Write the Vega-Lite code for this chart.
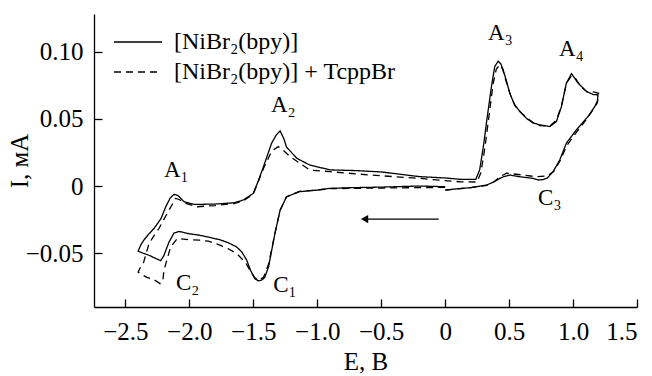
{
  "$schema": "https://vega.github.io/schema/vega-lite/v6.json",
  "width": 543,
  "height": 293,
  "autosize": "none",
  "padding": {"left": 94, "top": 14, "right": 15, "bottom": 69},
  "background": "white",
  "config": {
    "view": {"stroke": null},
    "font": "Liberation Serif, Times New Roman, serif",
    "axis": {
      "grid": false,
      "domainColor": "black",
      "domainWidth": 1.3,
      "tickColor": "black",
      "tickWidth": 1.3,
      "labelFont": "Liberation Serif, Times New Roman, serif",
      "labelFontSize": 25,
      "labelColor": "black",
      "titleFont": "Liberation Serif, Times New Roman, serif",
      "titleFontSize": 25,
      "titleFontWeight": "normal",
      "titleColor": "black"
    },
    "legend": {
      "labelFont": "Liberation Serif, Times New Roman, serif",
      "labelFontSize": 24,
      "labelColor": "black"
    }
  },
  "layer": [
    {
      "data": {
        "values": [
          {"s": "[NiBr₂(bpy)]", "i": 1, "E": 0.0, "I": -0.0005},
          {"s": "[NiBr₂(bpy)]", "i": 2, "E": -0.2, "I": 0.0},
          {"s": "[NiBr₂(bpy)]", "i": 3, "E": -0.5, "I": -0.0008},
          {"s": "[NiBr₂(bpy)]", "i": 4, "E": -0.72, "I": -0.0012},
          {"s": "[NiBr₂(bpy)]", "i": 5, "E": -0.9, "I": -0.0017},
          {"s": "[NiBr₂(bpy)]", "i": 6, "E": -1.0, "I": -0.003},
          {"s": "[NiBr₂(bpy)]", "i": 7, "E": -1.14, "I": -0.0042},
          {"s": "[NiBr₂(bpy)]", "i": 8, "E": -1.24, "I": -0.008},
          {"s": "[NiBr₂(bpy)]", "i": 9, "E": -1.29, "I": -0.018},
          {"s": "[NiBr₂(bpy)]", "i": 10, "E": -1.33, "I": -0.035},
          {"s": "[NiBr₂(bpy)]", "i": 11, "E": -1.38, "I": -0.06},
          {"s": "[NiBr₂(bpy)]", "i": 12, "E": -1.41, "I": -0.068},
          {"s": "[NiBr₂(bpy)]", "i": 13, "E": -1.434, "I": -0.07},
          {"s": "[NiBr₂(bpy)]", "i": 14, "E": -1.46, "I": -0.0705},
          {"s": "[NiBr₂(bpy)]", "i": 15, "E": -1.487, "I": -0.069},
          {"s": "[NiBr₂(bpy)]", "i": 16, "E": -1.52, "I": -0.063},
          {"s": "[NiBr₂(bpy)]", "i": 17, "E": -1.552, "I": -0.055},
          {"s": "[NiBr₂(bpy)]", "i": 18, "E": -1.59, "I": -0.049},
          {"s": "[NiBr₂(bpy)]", "i": 19, "E": -1.63, "I": -0.0453},
          {"s": "[NiBr₂(bpy)]", "i": 20, "E": -1.7, "I": -0.042},
          {"s": "[NiBr₂(bpy)]", "i": 21, "E": -1.76, "I": -0.04},
          {"s": "[NiBr₂(bpy)]", "i": 22, "E": -1.85, "I": -0.038},
          {"s": "[NiBr₂(bpy)]", "i": 23, "E": -1.92, "I": -0.0366},
          {"s": "[NiBr₂(bpy)]", "i": 24, "E": -2.0, "I": -0.0355},
          {"s": "[NiBr₂(bpy)]", "i": 25, "E": -2.08, "I": -0.0338},
          {"s": "[NiBr₂(bpy)]", "i": 26, "E": -2.12, "I": -0.035},
          {"s": "[NiBr₂(bpy)]", "i": 27, "E": -2.16, "I": -0.042},
          {"s": "[NiBr₂(bpy)]", "i": 28, "E": -2.2, "I": -0.052},
          {"s": "[NiBr₂(bpy)]", "i": 29, "E": -2.224, "I": -0.0555},
          {"s": "[NiBr₂(bpy)]", "i": 30, "E": -2.26, "I": -0.054},
          {"s": "[NiBr₂(bpy)]", "i": 31, "E": -2.315, "I": -0.0515},
          {"s": "[NiBr₂(bpy)]", "i": 32, "E": -2.36, "I": -0.05},
          {"s": "[NiBr₂(bpy)]", "i": 33, "E": -2.4, "I": -0.0485},
          {"s": "[NiBr₂(bpy)]", "i": 34, "E": -2.38, "I": -0.044},
          {"s": "[NiBr₂(bpy)]", "i": 35, "E": -2.354, "I": -0.04},
          {"s": "[NiBr₂(bpy)]", "i": 36, "E": -2.31, "I": -0.035},
          {"s": "[NiBr₂(bpy)]", "i": 37, "E": -2.276, "I": -0.0316},
          {"s": "[NiBr₂(bpy)]", "i": 38, "E": -2.22, "I": -0.024},
          {"s": "[NiBr₂(bpy)]", "i": 39, "E": -2.184, "I": -0.0154},
          {"s": "[NiBr₂(bpy)]", "i": 40, "E": -2.15, "I": -0.009},
          {"s": "[NiBr₂(bpy)]", "i": 41, "E": -2.12, "I": -0.0062},
          {"s": "[NiBr₂(bpy)]", "i": 42, "E": -2.09, "I": -0.007},
          {"s": "[NiBr₂(bpy)]", "i": 43, "E": -2.04, "I": -0.0117},
          {"s": "[NiBr₂(bpy)]", "i": 44, "E": -1.96, "I": -0.0137},
          {"s": "[NiBr₂(bpy)]", "i": 45, "E": -1.8, "I": -0.0134},
          {"s": "[NiBr₂(bpy)]", "i": 46, "E": -1.65, "I": -0.0125},
          {"s": "[NiBr₂(bpy)]", "i": 47, "E": -1.578, "I": -0.0104},
          {"s": "[NiBr₂(bpy)]", "i": 48, "E": -1.5, "I": -0.0055},
          {"s": "[NiBr₂(bpy)]", "i": 49, "E": -1.46, "I": 0.004},
          {"s": "[NiBr₂(bpy)]", "i": 50, "E": -1.42, "I": 0.0144},
          {"s": "[NiBr₂(bpy)]", "i": 51, "E": -1.356, "I": 0.032},
          {"s": "[NiBr₂(bpy)]", "i": 52, "E": -1.32, "I": 0.038},
          {"s": "[NiBr₂(bpy)]", "i": 53, "E": -1.29, "I": 0.041},
          {"s": "[NiBr₂(bpy)]", "i": 54, "E": -1.26, "I": 0.035},
          {"s": "[NiBr₂(bpy)]", "i": 55, "E": -1.24, "I": 0.029},
          {"s": "[NiBr₂(bpy)]", "i": 56, "E": -1.16, "I": 0.0207},
          {"s": "[NiBr₂(bpy)]", "i": 57, "E": -1.06, "I": 0.0157},
          {"s": "[NiBr₂(bpy)]", "i": 58, "E": -0.9, "I": 0.012},
          {"s": "[NiBr₂(bpy)]", "i": 59, "E": -0.7, "I": 0.0115},
          {"s": "[NiBr₂(bpy)]", "i": 60, "E": -0.5, "I": 0.0105},
          {"s": "[NiBr₂(bpy)]", "i": 61, "E": -0.2, "I": 0.007},
          {"s": "[NiBr₂(bpy)]", "i": 62, "E": 0.0, "I": 0.006},
          {"s": "[NiBr₂(bpy)]", "i": 63, "E": 0.12, "I": 0.005},
          {"s": "[NiBr₂(bpy)]", "i": 64, "E": 0.24, "I": 0.005},
          {"s": "[NiBr₂(bpy)]", "i": 65, "E": 0.27, "I": 0.012},
          {"s": "[NiBr₂(bpy)]", "i": 66, "E": 0.3, "I": 0.03},
          {"s": "[NiBr₂(bpy)]", "i": 67, "E": 0.323, "I": 0.047},
          {"s": "[NiBr₂(bpy)]", "i": 68, "E": 0.362, "I": 0.074},
          {"s": "[NiBr₂(bpy)]", "i": 69, "E": 0.388, "I": 0.089},
          {"s": "[NiBr₂(bpy)]", "i": 70, "E": 0.414, "I": 0.0928},
          {"s": "[NiBr₂(bpy)]", "i": 71, "E": 0.435, "I": 0.091},
          {"s": "[NiBr₂(bpy)]", "i": 72, "E": 0.453, "I": 0.0866},
          {"s": "[NiBr₂(bpy)]", "i": 73, "E": 0.48, "I": 0.078},
          {"s": "[NiBr₂(bpy)]", "i": 74, "E": 0.505, "I": 0.0692},
          {"s": "[NiBr₂(bpy)]", "i": 75, "E": 0.54, "I": 0.061},
          {"s": "[NiBr₂(bpy)]", "i": 76, "E": 0.584, "I": 0.0555},
          {"s": "[NiBr₂(bpy)]", "i": 77, "E": 0.64, "I": 0.05},
          {"s": "[NiBr₂(bpy)]", "i": 78, "E": 0.688, "I": 0.047},
          {"s": "[NiBr₂(bpy)]", "i": 79, "E": 0.74, "I": 0.0455},
          {"s": "[NiBr₂(bpy)]", "i": 80, "E": 0.818, "I": 0.0443},
          {"s": "[NiBr₂(bpy)]", "i": 81, "E": 0.87, "I": 0.048},
          {"s": "[NiBr₂(bpy)]", "i": 82, "E": 0.909, "I": 0.059},
          {"s": "[NiBr₂(bpy)]", "i": 83, "E": 0.948, "I": 0.0766},
          {"s": "[NiBr₂(bpy)]", "i": 84, "E": 0.988, "I": 0.0836},
          {"s": "[NiBr₂(bpy)]", "i": 85, "E": 1.039, "I": 0.0766},
          {"s": "[NiBr₂(bpy)]", "i": 86, "E": 1.105, "I": 0.0704},
          {"s": "[NiBr₂(bpy)]", "i": 87, "E": 1.16, "I": 0.068},
          {"s": "[NiBr₂(bpy)]", "i": 88, "E": 1.195, "I": 0.0679},
          {"s": "[NiBr₂(bpy)]", "i": 89, "E": 1.19, "I": 0.063},
          {"s": "[NiBr₂(bpy)]", "i": 90, "E": 1.17, "I": 0.0592},
          {"s": "[NiBr₂(bpy)]", "i": 91, "E": 1.117, "I": 0.0517},
          {"s": "[NiBr₂(bpy)]", "i": 92, "E": 1.026, "I": 0.0418},
          {"s": "[NiBr₂(bpy)]", "i": 93, "E": 0.948, "I": 0.0319},
          {"s": "[NiBr₂(bpy)]", "i": 94, "E": 0.896, "I": 0.0194},
          {"s": "[NiBr₂(bpy)]", "i": 95, "E": 0.844, "I": 0.0107},
          {"s": "[NiBr₂(bpy)]", "i": 96, "E": 0.8, "I": 0.006},
          {"s": "[NiBr₂(bpy)]", "i": 97, "E": 0.766, "I": 0.0048},
          {"s": "[NiBr₂(bpy)]", "i": 98, "E": 0.727, "I": 0.0045},
          {"s": "[NiBr₂(bpy)]", "i": 99, "E": 0.688, "I": 0.0057},
          {"s": "[NiBr₂(bpy)]", "i": 100, "E": 0.62, "I": 0.0065},
          {"s": "[NiBr₂(bpy)]", "i": 101, "E": 0.584, "I": 0.0069},
          {"s": "[NiBr₂(bpy)]", "i": 102, "E": 0.505, "I": 0.0082},
          {"s": "[NiBr₂(bpy)]", "i": 103, "E": 0.46, "I": 0.007},
          {"s": "[NiBr₂(bpy)]", "i": 104, "E": 0.427, "I": 0.0057},
          {"s": "[NiBr₂(bpy)]", "i": 105, "E": 0.38, "I": 0.003},
          {"s": "[NiBr₂(bpy)]", "i": 106, "E": 0.323, "I": 0.0007},
          {"s": "[NiBr₂(bpy)]", "i": 107, "E": 0.2, "I": -0.0012},
          {"s": "[NiBr₂(bpy)]", "i": 108, "E": 0.1, "I": -0.002},
          {"s": "[NiBr₂(bpy)]", "i": 109, "E": 0.0, "I": -0.003},

          {"s": "[NiBr₂(bpy)] + TcppBr", "i": 1, "E": 0.0, "I": -0.001},
          {"s": "[NiBr₂(bpy)] + TcppBr", "i": 2, "E": -0.2, "I": -0.0012},
          {"s": "[NiBr₂(bpy)] + TcppBr", "i": 3, "E": -0.5, "I": -0.0015},
          {"s": "[NiBr₂(bpy)] + TcppBr", "i": 4, "E": -0.72, "I": -0.0017},
          {"s": "[NiBr₂(bpy)] + TcppBr", "i": 5, "E": -0.9, "I": -0.002},
          {"s": "[NiBr₂(bpy)] + TcppBr", "i": 6, "E": -1.0, "I": -0.003},
          {"s": "[NiBr₂(bpy)] + TcppBr", "i": 7, "E": -1.14, "I": -0.004},
          {"s": "[NiBr₂(bpy)] + TcppBr", "i": 8, "E": -1.24, "I": -0.008},
          {"s": "[NiBr₂(bpy)] + TcppBr", "i": 9, "E": -1.29, "I": -0.018},
          {"s": "[NiBr₂(bpy)] + TcppBr", "i": 10, "E": -1.33, "I": -0.035},
          {"s": "[NiBr₂(bpy)] + TcppBr", "i": 11, "E": -1.38, "I": -0.058},
          {"s": "[NiBr₂(bpy)] + TcppBr", "i": 12, "E": -1.42, "I": -0.068},
          {"s": "[NiBr₂(bpy)] + TcppBr", "i": 13, "E": -1.46, "I": -0.0701},
          {"s": "[NiBr₂(bpy)] + TcppBr", "i": 14, "E": -1.49, "I": -0.068},
          {"s": "[NiBr₂(bpy)] + TcppBr", "i": 15, "E": -1.526, "I": -0.0627},
          {"s": "[NiBr₂(bpy)] + TcppBr", "i": 16, "E": -1.56, "I": -0.057},
          {"s": "[NiBr₂(bpy)] + TcppBr", "i": 17, "E": -1.63, "I": -0.0502},
          {"s": "[NiBr₂(bpy)] + TcppBr", "i": 18, "E": -1.7, "I": -0.0465},
          {"s": "[NiBr₂(bpy)] + TcppBr", "i": 19, "E": -1.76, "I": -0.044},
          {"s": "[NiBr₂(bpy)] + TcppBr", "i": 20, "E": -1.85, "I": -0.041},
          {"s": "[NiBr₂(bpy)] + TcppBr", "i": 21, "E": -1.92, "I": -0.0403},
          {"s": "[NiBr₂(bpy)] + TcppBr", "i": 22, "E": -2.0, "I": -0.04},
          {"s": "[NiBr₂(bpy)] + TcppBr", "i": 23, "E": -2.094, "I": -0.039},
          {"s": "[NiBr₂(bpy)] + TcppBr", "i": 24, "E": -2.146, "I": -0.0453},
          {"s": "[NiBr₂(bpy)] + TcppBr", "i": 25, "E": -2.175, "I": -0.055},
          {"s": "[NiBr₂(bpy)] + TcppBr", "i": 26, "E": -2.198, "I": -0.0627},
          {"s": "[NiBr₂(bpy)] + TcppBr", "i": 27, "E": -2.208, "I": -0.071},
          {"s": "[NiBr₂(bpy)] + TcppBr", "i": 28, "E": -2.229, "I": -0.0726},
          {"s": "[NiBr₂(bpy)] + TcppBr", "i": 29, "E": -2.27, "I": -0.07},
          {"s": "[NiBr₂(bpy)] + TcppBr", "i": 30, "E": -2.33, "I": -0.068},
          {"s": "[NiBr₂(bpy)] + TcppBr", "i": 31, "E": -2.385, "I": -0.0652},
          {"s": "[NiBr₂(bpy)] + TcppBr", "i": 32, "E": -2.4, "I": -0.064},
          {"s": "[NiBr₂(bpy)] + TcppBr", "i": 33, "E": -2.385, "I": -0.061},
          {"s": "[NiBr₂(bpy)] + TcppBr", "i": 34, "E": -2.36, "I": -0.0577},
          {"s": "[NiBr₂(bpy)] + TcppBr", "i": 35, "E": -2.315, "I": -0.0428},
          {"s": "[NiBr₂(bpy)] + TcppBr", "i": 36, "E": -2.27, "I": -0.036},
          {"s": "[NiBr₂(bpy)] + TcppBr", "i": 37, "E": -2.237, "I": -0.0316},
          {"s": "[NiBr₂(bpy)] + TcppBr", "i": 38, "E": -2.2, "I": -0.025},
          {"s": "[NiBr₂(bpy)] + TcppBr", "i": 39, "E": -2.159, "I": -0.018},
          {"s": "[NiBr₂(bpy)] + TcppBr", "i": 40, "E": -2.107, "I": -0.0092},
          {"s": "[NiBr₂(bpy)] + TcppBr", "i": 41, "E": -2.08, "I": -0.01},
          {"s": "[NiBr₂(bpy)] + TcppBr", "i": 42, "E": -2.028, "I": -0.0129},
          {"s": "[NiBr₂(bpy)] + TcppBr", "i": 43, "E": -1.938, "I": -0.0154},
          {"s": "[NiBr₂(bpy)] + TcppBr", "i": 44, "E": -1.8, "I": -0.0145},
          {"s": "[NiBr₂(bpy)] + TcppBr", "i": 45, "E": -1.65, "I": -0.013},
          {"s": "[NiBr₂(bpy)] + TcppBr", "i": 46, "E": -1.578, "I": -0.011},
          {"s": "[NiBr₂(bpy)] + TcppBr", "i": 47, "E": -1.5, "I": -0.006},
          {"s": "[NiBr₂(bpy)] + TcppBr", "i": 48, "E": -1.42, "I": 0.013},
          {"s": "[NiBr₂(bpy)] + TcppBr", "i": 49, "E": -1.356, "I": 0.026},
          {"s": "[NiBr₂(bpy)] + TcppBr", "i": 50, "E": -1.305, "I": 0.0293},
          {"s": "[NiBr₂(bpy)] + TcppBr", "i": 51, "E": -1.27, "I": 0.027},
          {"s": "[NiBr₂(bpy)] + TcppBr", "i": 52, "E": -1.213, "I": 0.0219},
          {"s": "[NiBr₂(bpy)] + TcppBr", "i": 53, "E": -1.057, "I": 0.0119},
          {"s": "[NiBr₂(bpy)] + TcppBr", "i": 54, "E": -0.9, "I": 0.0107},
          {"s": "[NiBr₂(bpy)] + TcppBr", "i": 55, "E": -0.588, "I": 0.0082},
          {"s": "[NiBr₂(bpy)] + TcppBr", "i": 56, "E": -0.198, "I": 0.0057},
          {"s": "[NiBr₂(bpy)] + TcppBr", "i": 57, "E": 0.0, "I": 0.004},
          {"s": "[NiBr₂(bpy)] + TcppBr", "i": 58, "E": 0.115, "I": 0.0032},
          {"s": "[NiBr₂(bpy)] + TcppBr", "i": 59, "E": 0.25, "I": 0.003},
          {"s": "[NiBr₂(bpy)] + TcppBr", "i": 60, "E": 0.28, "I": 0.01},
          {"s": "[NiBr₂(bpy)] + TcppBr", "i": 61, "E": 0.31, "I": 0.028},
          {"s": "[NiBr₂(bpy)] + TcppBr", "i": 62, "E": 0.34, "I": 0.05},
          {"s": "[NiBr₂(bpy)] + TcppBr", "i": 63, "E": 0.375, "I": 0.076},
          {"s": "[NiBr₂(bpy)] + TcppBr", "i": 64, "E": 0.4, "I": 0.087},
          {"s": "[NiBr₂(bpy)] + TcppBr", "i": 65, "E": 0.427, "I": 0.0903},
          {"s": "[NiBr₂(bpy)] + TcppBr", "i": 66, "E": 0.45, "I": 0.087},
          {"s": "[NiBr₂(bpy)] + TcppBr", "i": 67, "E": 0.47, "I": 0.08},
          {"s": "[NiBr₂(bpy)] + TcppBr", "i": 68, "E": 0.51, "I": 0.068},
          {"s": "[NiBr₂(bpy)] + TcppBr", "i": 69, "E": 0.55, "I": 0.059},
          {"s": "[NiBr₂(bpy)] + TcppBr", "i": 70, "E": 0.6, "I": 0.054},
          {"s": "[NiBr₂(bpy)] + TcppBr", "i": 71, "E": 0.688, "I": 0.047},
          {"s": "[NiBr₂(bpy)] + TcppBr", "i": 72, "E": 0.74, "I": 0.045},
          {"s": "[NiBr₂(bpy)] + TcppBr", "i": 73, "E": 0.818, "I": 0.0445},
          {"s": "[NiBr₂(bpy)] + TcppBr", "i": 74, "E": 0.87, "I": 0.049},
          {"s": "[NiBr₂(bpy)] + TcppBr", "i": 75, "E": 0.91, "I": 0.06},
          {"s": "[NiBr₂(bpy)] + TcppBr", "i": 76, "E": 0.95, "I": 0.077},
          {"s": "[NiBr₂(bpy)] + TcppBr", "i": 77, "E": 0.99, "I": 0.082},
          {"s": "[NiBr₂(bpy)] + TcppBr", "i": 78, "E": 1.02, "I": 0.08},
          {"s": "[NiBr₂(bpy)] + TcppBr", "i": 79, "E": 1.06, "I": 0.074},
          {"s": "[NiBr₂(bpy)] + TcppBr", "i": 80, "E": 1.11, "I": 0.07},
          {"s": "[NiBr₂(bpy)] + TcppBr", "i": 81, "E": 1.16, "I": 0.07},
          {"s": "[NiBr₂(bpy)] + TcppBr", "i": 82, "E": 1.2, "I": 0.069},
          {"s": "[NiBr₂(bpy)] + TcppBr", "i": 83, "E": 1.19, "I": 0.062},
          {"s": "[NiBr₂(bpy)] + TcppBr", "i": 84, "E": 1.15, "I": 0.056},
          {"s": "[NiBr₂(bpy)] + TcppBr", "i": 85, "E": 1.1, "I": 0.049},
          {"s": "[NiBr₂(bpy)] + TcppBr", "i": 86, "E": 1.026, "I": 0.04},
          {"s": "[NiBr₂(bpy)] + TcppBr", "i": 87, "E": 0.95, "I": 0.03},
          {"s": "[NiBr₂(bpy)] + TcppBr", "i": 88, "E": 0.9, "I": 0.019},
          {"s": "[NiBr₂(bpy)] + TcppBr", "i": 89, "E": 0.85, "I": 0.011},
          {"s": "[NiBr₂(bpy)] + TcppBr", "i": 90, "E": 0.8, "I": 0.0075},
          {"s": "[NiBr₂(bpy)] + TcppBr", "i": 91, "E": 0.714, "I": 0.0069},
          {"s": "[NiBr₂(bpy)] + TcppBr", "i": 92, "E": 0.61, "I": 0.0082},
          {"s": "[NiBr₂(bpy)] + TcppBr", "i": 93, "E": 0.48, "I": 0.0095},
          {"s": "[NiBr₂(bpy)] + TcppBr", "i": 94, "E": 0.43, "I": 0.007},
          {"s": "[NiBr₂(bpy)] + TcppBr", "i": 95, "E": 0.38, "I": 0.003},
          {"s": "[NiBr₂(bpy)] + TcppBr", "i": 96, "E": 0.323, "I": 0.0005},
          {"s": "[NiBr₂(bpy)] + TcppBr", "i": 97, "E": 0.2, "I": -0.0012},
          {"s": "[NiBr₂(bpy)] + TcppBr", "i": 98, "E": 0.0, "I": -0.003}
        ]
      },
      "mark": {"type": "line", "color": "black", "strokeWidth": 1.3},
      "encoding": {
        "x": {
          "field": "E", "type": "quantitative",
          "scale": {"domain": [-2.745, 1.5], "nice": false, "zero": false},
          "axis": {
            "title": "E, В",
            "values": [-2.5, -2, -1.5, -1, -0.5, 0, 0.5, 1, 1.5],
            "labelExpr": "datum.value == 0 ? '0' : format(datum.value, '.1f')",
            "tickSize": -8,
            "labelPadding": 20,
            "titleBaseline": "alphabetic",
            "titleY": 62
          }
        },
        "y": {
          "field": "I", "type": "quantitative",
          "scale": {"domain": [-0.09, 0.128], "nice": false, "zero": false},
          "axis": {
            "title": "I, мА",
            "values": [-0.05, 0, 0.05, 0.1],
            "labelExpr": "datum.value == 0 ? '0' : format(datum.value, '.2f')",
            "tickSize": -8,
            "labelPadding": 19,
            "titleBaseline": "middle",
            "titleX": -75
          }
        },
        "order": {"field": "i", "type": "quantitative"},
        "strokeDash": {
          "field": "s", "type": "nominal",
          "scale": {"domain": ["[NiBr₂(bpy)]", "[NiBr₂(bpy)] + TcppBr"], "range": [[1, 0], [7, 5]]},
          "legend": {
            "title": null,
            "orient": "none",
            "legendX": 32,
            "legendY": 16,
            "symbolType": "M-2.4,0H2.4",
            "symbolSize": 400,
            "symbolStrokeColor": "black",
            "symbolStrokeWidth": 1.3,
            "symbolFillColor": "transparent",
            "labelOffset": 24,
            "labelLimit": 500,
            "rowPadding": 6
          }
        }
      }
    },
    {
      "data": {
        "values": [
          {"t": "A₁", "E": -2.198, "I": 0.0069},
          {"t": "A₂", "E": -1.362, "I": 0.0554},
          {"t": "A₃", "E": 0.336, "I": 0.1084},
          {"t": "A₄", "E": 0.891, "I": 0.0965},
          {"t": "C₁", "E": -1.344, "I": -0.0789},
          {"t": "C₂", "E": -2.104, "I": -0.0776},
          {"t": "C₃", "E": 0.727, "I": -0.0142}
        ]
      },
      "mark": {"type": "text", "fontSize": 23, "color": "black", "font": "Liberation Serif, Times New Roman, serif", "align": "left", "baseline": "alphabetic"},
      "encoding": {
        "x": {"field": "E", "type": "quantitative"},
        "y": {"field": "I", "type": "quantitative"},
        "text": {"field": "t"}
      }
    },
    {
      "data": {"values": [{"E1": -0.05, "E2": -0.62, "I": -0.0246}]},
      "mark": {"type": "rule", "color": "black", "strokeWidth": 1.3},
      "encoding": {
        "x": {"field": "E1", "type": "quantitative"},
        "x2": {"field": "E2"},
        "y": {"field": "I", "type": "quantitative"}
      }
    },
    {
      "data": {"values": [{"E": -0.63, "I": -0.0246}]},
      "mark": {"type": "point", "shape": "triangle-left", "filled": true, "color": "black", "size": 70, "opacity": 1},
      "encoding": {
        "x": {"field": "E", "type": "quantitative"},
        "y": {"field": "I", "type": "quantitative"}
      }
    }
  ]
}
